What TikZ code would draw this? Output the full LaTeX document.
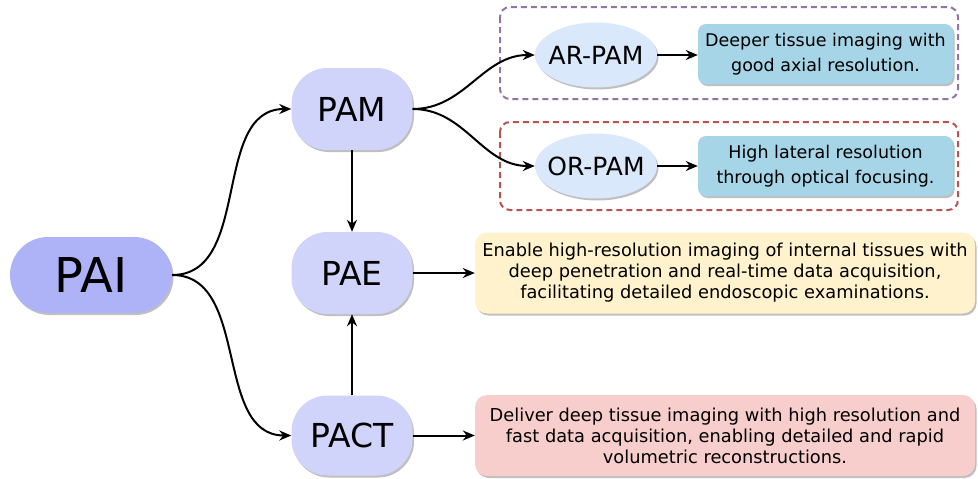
\documentclass[tikz,border=0pt]{standalone}
\usepackage{fontspec}
\setmainfont{DejaVu Sans}
\usetikzlibrary{arrows.meta,shadows,shapes.geometric}
\definecolor{paic}{HTML}{AEB3F8}
\definecolor{mainc}{HTML}{D0D4FA}
\definecolor{ellc}{HTML}{DAE8FC}
\definecolor{descb}{HTML}{A5D5E6}
\definecolor{yelc}{HTML}{FFF2CC}
\definecolor{pinkc}{HTML}{F8CECC}
\definecolor{purpc}{HTML}{9673A6}
\definecolor{redc}{HTML}{B85450}
\begin{document}
\begin{tikzpicture}[x=1pt,y=-1pt,
  every node/.style={inner sep=0pt, align=center},
  shad/.style={drop shadow={shadow xshift=1.5pt, shadow yshift=-2pt, opacity=0.25, fill=black}},
  pai/.style={shad, fill=paic, rounded corners=38pt, minimum width=162pt, minimum height=76pt, font=\fontsize{48}{54}\selectfont},
  mainbox/.style={shad, fill=mainc, rounded corners=36pt, minimum width=121pt, minimum height=82pt, font=\fontsize{33}{38}\selectfont},
  ellbox/.style={shad, ellipse, fill=ellc, inner xsep=-20pt, inner ysep=-10pt, minimum width=122pt, minimum height=65pt, font=\fontsize{25}{28}\selectfont},
  descbox/.style={shad, fill=descb, rounded corners=8pt, minimum width=255pt, minimum height=60pt, font=\fontsize{17.5}{25}\selectfont},
  bigbox/.style={shad, rounded corners=12pt, minimum width=500pt, minimum height=81pt, font=\fontsize{17.8}{21}\selectfont},
  grp/.style={line width=2pt, dash pattern=on 6pt off 4pt, rounded corners=10pt},
  arr/.style={-{Stealth[length=12pt,width=10pt]}, line width=2pt, black}
]
\useasboundingbox (0,0) rectangle (978,479);
\draw[grp, draw=purpc] (500,7) rectangle (958,99);
\draw[grp, draw=redc] (500,122) rectangle (958,210);

\node[pai] (pai) at (91,275) {PAI};
\node[mainbox] (pam) at (352,109) {PAM};
\node[mainbox] (pae) at (352,273) {PAE};
\node[mainbox, minimum height=80pt] (pact) at (352,435.5) {PACT};
\node[ellbox] (ar) at (596,55) {AR-PAM};
\node[ellbox] (or) at (596,166) {OR-PAM};
\node[descbox] (d1) at (825.5,54) {Deeper tissue imaging with\\good axial resolution.};
\node[descbox] (d2) at (825.5,166) {High lateral resolution\\through optical focusing.};
\node[bigbox, fill=yelc] (y) at (725,273) {Enable high-resolution imaging of internal tissues with\\deep penetration and real-time data acquisition,\\facilitating detailed endoscopic examinations.};
\node[bigbox, fill=pinkc] (p) at (725,435.5) {Deliver deep tissue imaging with high resolution and\\fast data acquisition, enabling detailed and rapid\\volumetric reconstructions.};

\draw[arr] (pai.east) to[out=0,in=180] (pam.west);
\draw[arr] (pai.east) to[out=0,in=180] (pact.west);
\draw[arr] (pam.south) -- (pae.north);
\draw[arr] (pact.north) -- (pae.south);
\draw[arr] (pae.east) -- (y.west);
\draw[arr] (pact.east) -- (p.west);
\draw[arr] (pam.east) to[out=0,in=180] (ar.west);
\draw[arr] (pam.east) to[out=0,in=180] (or.west);
\draw[arr] (ar.east) -- (d1.west |- ar.east);
\draw[arr] (or.east) -- (d2.west |- or.east);
\end{tikzpicture}
\end{document}
